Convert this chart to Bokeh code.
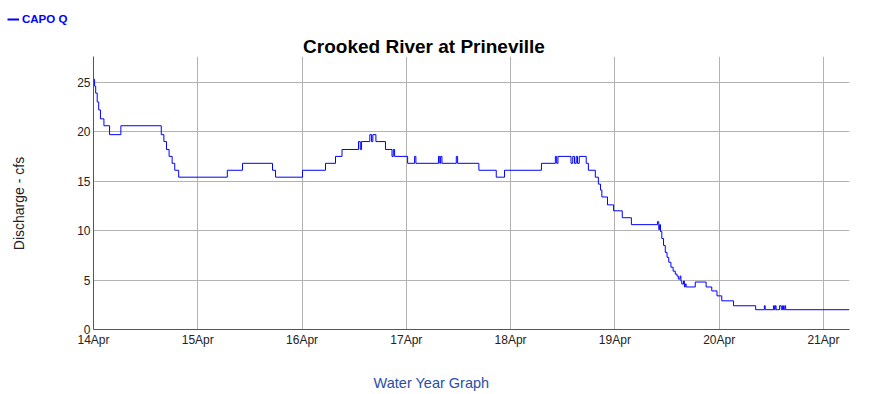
import math
from datetime import datetime, timedelta

from bokeh.plotting import figure
from bokeh.layouts import column, row
from bokeh.models import (Range1d, FixedTicker, DatetimeTickFormatter, Label,
                          Legend, LegendItem, ColumnDataSource)
from bokeh.embed import file_html
from bokeh.resources import INLINE

# ---------------- data ----------------
START = datetime(2025, 4, 14)
END_HOURS = 174  # 21 Apr 06:00

series_name = "CAPO Q"
title_text = "Crooked River at Prineville"
y_label = "Discharge - cfs"
footer_text = "Water Year Graph"

day_ticks = [START + timedelta(days=d) for d in range(8)]  # 14Apr .. 21Apr
y_ticks = [0, 5, 10, 15, 20, 25]

# hours since 14 Apr 00:00 where the reading changes, and the reading (cfs)
hours = [
    0.0, 0.25, 0.5, 0.85, 1.2, 1.6, 2.4, 3.7, 6.3,
    15.6, 16.2, 16.8, 17.4, 18.1, 18.7, 19.6,
    30.8, 34.3, 41.2, 41.9, 48.1, 53.4, 55.7, 57.2,
    61.0, 61.4, 61.7, 63.6, 64.0, 64.3, 65.0, 67.2,
    68.7, 69.0, 69.3, 72.3, 73.9, 74.2, 79.4, 79.7, 79.9, 80.2,
    83.5, 83.8, 88.7, 92.7, 94.6, 103.1, 106.3, 106.6, 106.9,
    109.9, 110.3, 110.7, 111.1, 111.4, 111.8, 113.4, 113.9,
    115.5, 116.2, 116.7, 117.0, 118.3, 119.7, 121.7, 123.8,
    129.8, 130.1, 130.3, 130.5, 130.8, 131.2, 131.6, 132.0, 132.4,
    132.9, 133.4, 133.9, 134.3, 134.6, 135.0, 135.2, 135.4, 135.8,
    136.0, 136.2, 136.4, 138.5, 141.0, 142.3, 143.5, 144.6, 147.3,
    152.4, 154.4, 154.6, 156.5, 156.7, 156.9, 157.1, 157.9, 158.3,
    158.6, 158.8, 159.1, 159.3, 174.0,
]
cfs = [
    25.3, 24.6, 23.9, 23.0, 22.2, 21.3, 20.6, 19.7, 20.6,
    19.7, 19.0, 18.2, 17.5, 16.8, 16.1, 15.4,
    16.1, 16.8, 16.1, 15.4, 16.1, 16.8, 17.5, 18.2,
    19.0, 18.2, 19.0, 19.7, 19.0, 19.7, 19.0, 18.2,
    17.5, 18.2, 17.5, 16.8, 17.5, 16.8, 17.5, 16.8, 17.5, 16.8,
    17.5, 16.8, 16.1, 15.4, 16.1, 16.8, 17.5, 16.8, 17.5,
    16.8, 17.5, 16.8, 17.5, 16.8, 17.5, 16.8, 16.1,
    15.4, 14.7, 14.1, 13.4, 12.6, 12.0, 11.3, 10.6,
    10.9, 10.1, 10.6, 9.9, 9.2, 8.5, 7.8, 7.3, 6.8,
    6.3, 5.9, 5.6, 5.4, 5.1, 5.4, 4.9, 4.6, 4.9,
    4.3, 4.6, 4.3, 4.8, 4.3, 3.9, 3.4, 2.9, 2.4,
    2.0, 2.4, 2.0, 2.4, 2.0, 2.4, 2.0, 2.4, 2.0,
    2.4, 2.0, 2.4, 2.0, 2.0,
]

# ---------------- geometry ----------------
FONT = "Liberation Sans"
W = 855
HEAD_H = 56
SIDE_W = 30                       # strip holding the y-axis title
LEFT, FRAME_W, FRAME_H = 93, 756, 273
BOTTOM = 22
MAIN_W = W - SIDE_W
RIGHT = MAIN_W - (LEFT - SIDE_W) - FRAME_W
MAIN_H = FRAME_H + BOTTOM
FOOT_H = 392 - HEAD_H - MAIN_H
LINE_COLOR = "#0000ff"

times = [START + timedelta(hours=h) for h in hours]
src = ColumnDataSource(dict(t=times, q=cfs))


def strip(width, height):
    f = figure(width=width, height=height, output_backend="svg", toolbar_location=None,
               title=None, x_axis_location=None, y_axis_location=None,
               x_range=Range1d(0, 1), y_range=Range1d(0, 1), min_border=0)
    f.outline_line_color = None
    f.xgrid.visible = False
    f.ygrid.visible = False
    f.border_fill_color = "white"
    f.background_fill_color = "white"
    if "frame_align" in f.properties():
        f.frame_align = False
    return f


# ---------------- header: legend + title ----------------
head = strip(W, HEAD_H)
# same series, only used to give the legend its key (falls outside this strip's ranges)
key = head.step(x="t", y="q", source=src, mode="after", line_color=LINE_COLOR, line_width=2)
legend = Legend(items=[LegendItem(label=series_name, renderers=[key])],
                location=(7, 31), orientation="horizontal",
                padding=0, margin=0, spacing=0,
                glyph_width=12, glyph_height=12, label_height=12, label_width=10,
                label_standoff=3, border_line_color=None, background_fill_alpha=0,
                label_text_font=FONT, label_text_font_size="11.5px",
                label_text_font_style="bold", label_text_color=LINE_COLOR)
head.add_layout(legend)
head.add_layout(Label(x=423.5, y=HEAD_H - 45.5, x_units="screen", y_units="screen",
                      text=title_text, text_font=FONT, text_font_size="19px",
                      text_font_style="bold", text_color="#000000",
                      text_align="center", text_baseline="middle"))

# ---------------- y-axis title strip ----------------
side = strip(SIDE_W, MAIN_H)
side.add_layout(Label(x=18.5, y=MAIN_H - (203 - HEAD_H), x_units="screen", y_units="screen",
                      text=y_label, text_font=FONT, text_font_size="14px",
                      text_color="#222222", angle=math.pi / 2,
                      text_align="center", text_baseline="middle"))

# ---------------- main chart ----------------
p = figure(width=MAIN_W, height=MAIN_H, x_axis_type="datetime", output_backend="svg",
           toolbar_location=None, title=None,
           x_range=Range1d(START, START + timedelta(hours=END_HOURS)),
           y_range=Range1d(0, 27.6),
           min_border_left=LEFT - SIDE_W, min_border_right=RIGHT,
           min_border_top=0, min_border_bottom=BOTTOM)
p.outline_line_color = None
p.background_fill_color = "white"
p.border_fill_color = "white"
if "frame_align" in p.properties():
    p.frame_align = False

r = p.step(x="t", y="q", source=src, mode="after", line_color=LINE_COLOR, line_width=1)

epoch = datetime(1970, 1, 1)
tick_ms = [(d - epoch).total_seconds() * 1000.0 for d in day_ticks]
xt = FixedTicker(ticks=tick_ms)
yt = FixedTicker(ticks=y_ticks)

p.xaxis.ticker = xt
p.xgrid.ticker = xt
p.yaxis.ticker = yt
p.ygrid.ticker = yt
fmt = "%d%b"
p.xaxis.formatter = DatetimeTickFormatter(days=fmt, hours=fmt, hourmin=fmt, minutes=fmt,
                                          months=fmt, years=fmt, minsec=fmt, seconds=fmt,
                                          milliseconds=fmt, microseconds=fmt)

for ax in (p.xaxis[0], p.yaxis[0]):
    ax.axis_line_color = "#555555"
    ax.axis_line_width = 1
    ax.major_tick_out = 0
    ax.major_tick_in = 0
    ax.minor_tick_out = 0
    ax.minor_tick_in = 0
    ax.major_label_text_font = FONT
    ax.major_label_text_font_size = "12px"
    ax.major_label_text_color = "#222222"
p.xaxis.major_label_standoff = 3
p.yaxis.major_label_standoff = 3

for g in (p.xgrid[0], p.ygrid[0]):
    g.grid_line_color = "#b3b3b3"
    g.grid_line_width = 1

# ---------------- footer ----------------
foot = strip(W, FOOT_H)
foot.add_layout(Label(x=431, y=FOOT_H - (382 - HEAD_H - MAIN_H), x_units="screen",
                      y_units="screen", text=footer_text, text_font=FONT,
                      text_font_size="14.5px", text_color="#2a4ea6",
                      text_align="center", text_baseline="middle"))

layout = column(head, row(side, p, spacing=0), foot, spacing=0)
open("out.html", "w").write(file_html(layout, INLINE))
